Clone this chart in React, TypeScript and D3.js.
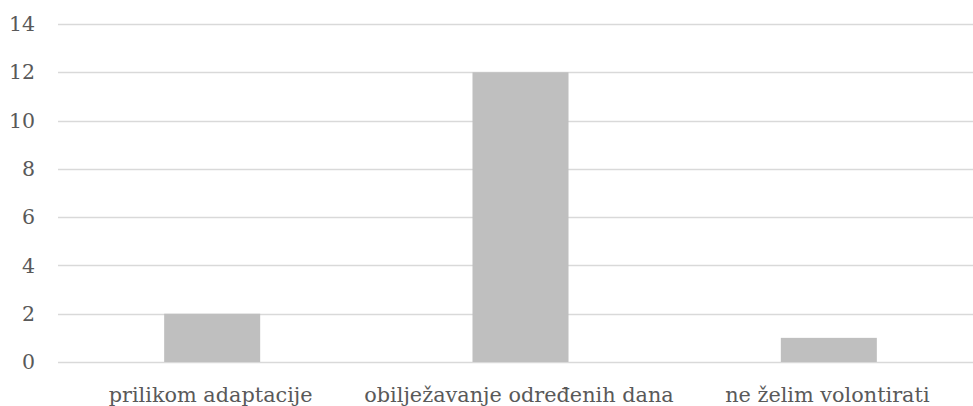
import React from "react";
import * as d3 from "d3";

const categories: string[] = [
  "prilikom adaptacije",
  "obilježavanje određenih dana",
  "ne želim volontirati",
];
const values: number[] = [2, 12, 1];
const yTicks: number[] = [0, 2, 4, 6, 8, 10, 12, 14];

const WIDTH = 973;
const HEIGHT = 406;
const PLOT = { left: 58, right: 983, top: 24, bottom: 362 };
const FONT = "'DejaVu Serif', 'Liberation Serif', serif";
const TEXT = "#595959";
const GRID = "#d9d9d9";
const BAR = "#bfbfbf";

export default function App() {
  const x = d3
    .scaleBand<string>()
    .domain(categories)
    .range([PLOT.left, PLOT.right])
    .paddingInner(0.6886)
    .paddingOuter(0.6886 / 2);

  const y = d3
    .scaleLinear()
    .domain([0, d3.max(yTicks) as number])
    .range([PLOT.bottom, PLOT.top]);

  return (
    <svg
      width={WIDTH}
      height={HEIGHT}
      viewBox={`0 0 ${WIDTH} ${HEIGHT}`}
      style={{ position: "absolute", left: 0, top: 0, background: "#fff" }}
    >
      <rect x={0} y={0} width={WIDTH} height={HEIGHT} fill="#fff" />
      {yTicks.map((t) => (
        <g key={t}>
          <line
            x1={PLOT.left}
            x2={PLOT.right}
            y1={Math.round(y(t)) + 0.5}
            y2={Math.round(y(t)) + 0.5}
            stroke={GRID}
            strokeWidth={1.3}
          />
          <text
            x={35}
            y={y(t)}
            dy="0.35em"
            textAnchor="end"
            fontFamily={FONT}
            fontSize={20.5}
            fill={TEXT}
          >
            {t}
          </text>
        </g>
      ))}
      {categories.map((c, i) => (
        <rect
          key={c}
          x={x(c) as number}
          y={y(values[i])}
          width={x.bandwidth()}
          height={y(0) - y(values[i])}
          fill={BAR}
        />
      ))}
      {categories.map((c) => (
        <text
          key={c}
          x={(x(c) as number) + x.bandwidth() / 2 - 1.5}
          y={402}
          textAnchor="middle"
          fontFamily={FONT}
          fontSize={20.8}
          fill={TEXT}
        >
          {c}
        </text>
      ))}
    </svg>
  );
}
